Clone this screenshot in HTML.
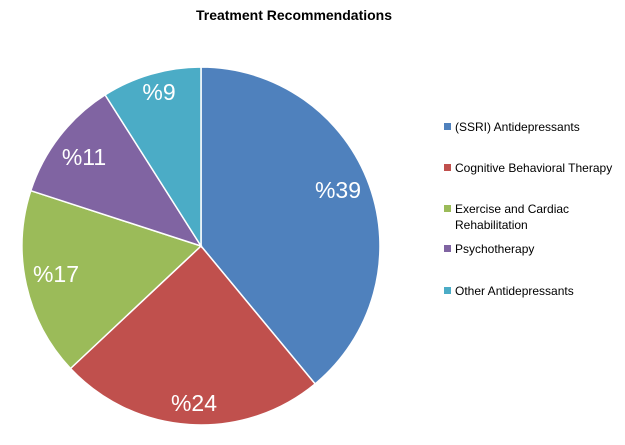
<!DOCTYPE html>
<html><head><style>
body{margin:0;background:#fff;width:625px;height:440px;overflow:hidden;font-family:"Liberation Sans",sans-serif}
</style></head><body>
<svg width="625" height="440" xmlns="http://www.w3.org/2000/svg">
<text x="294" y="20" text-anchor="middle" font-family="Liberation Sans,sans-serif" font-weight="bold" font-size="14" fill="#000">Treatment Recommendations</text>
<g stroke="#fff" stroke-width="1.5">
<path d="M201,246 L201,67 A179,179 0 0 1 315.1,383.9 Z" fill="#4f81bd"/>
<path d="M201,246 L315.1,383.9 A179,179 0 0 1 70.5,368.5 Z" fill="#c0504d"/>
<path d="M201,246 L70.5,368.5 A179,179 0 0 1 30.8,190.7 Z" fill="#9bbb59"/>
<path d="M201,246 L30.8,190.7 A179,179 0 0 1 105.1,94.9 Z" fill="#8064a2"/>
<path d="M201,246 L105.1,94.9 A179,179 0 0 1 201,67 Z" fill="#4bacc6"/>
</g>
<g fill="#fff" font-family="Liberation Sans,sans-serif" font-size="23" text-anchor="middle">
<text x="338" y="198">%39</text>
<text x="194" y="411">%24</text>
<text x="56" y="282">%17</text>
<text x="84" y="165">%11</text>
<text x="159" y="100">%9</text>
</g>
<g font-family="Liberation Sans,sans-serif" font-size="12" fill="#000">
<rect x="444" y="123" width="7" height="7" fill="#4f81bd"/><text x="455" y="131">(SSRI) Antidepressants</text>
<rect x="444" y="164" width="7" height="7" fill="#c0504d"/><text x="455" y="172">Cognitive Behavioral Therapy</text>
<rect x="444" y="205" width="7" height="7" fill="#9bbb59"/><text x="455" y="213">Exercise and Cardiac</text><text x="455" y="229">Rehabilitation</text>
<rect x="444" y="245" width="7" height="7" fill="#8064a2"/><text x="455" y="253">Psychotherapy</text>
<rect x="444" y="287" width="7" height="7" fill="#4bacc6"/><text x="455" y="295">Other Antidepressants</text>
</g>
</svg>
</body></html>
